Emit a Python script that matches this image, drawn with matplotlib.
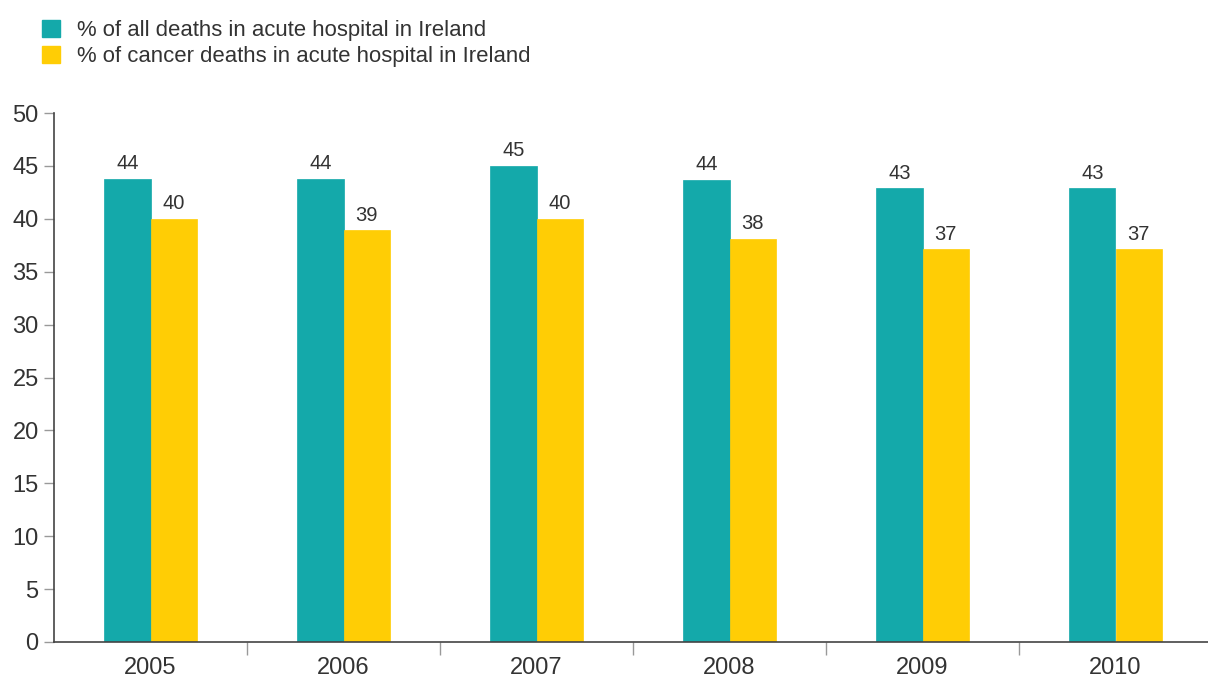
import numpy as np
import matplotlib.pyplot as plt
from matplotlib.patches import Patch

# Данные: доля смертей в больницах Ирландии, %
years = ['2005', '2006', '2007', '2008', '2009', '2010']
all_deaths = [43.8, 43.8, 45.0, 43.7, 42.9, 42.9]
cancer_deaths = [40.0, 38.9, 40.0, 38.1, 37.1, 37.1]
series_names = ['% of all deaths in acute hospital in Ireland',
                '% of cancer deaths in acute hospital in Ireland']

teal = '#14a9aa'
yellow = '#ffcd05'
text_col = '#333333'

plt.rcParams['font.family'] = ['Liberation Sans', 'DejaVu Sans']

fig = plt.figure(figsize=(12.08, 6.77), dpi=100)
ax = fig.add_axes([54 / 1208, 1 - 642 / 677, 1 - 54 / 1208, (642 - 113) / 677])

x = np.arange(len(years))
w = 0.24
b1 = ax.bar(x - w / 2, all_deaths, w, color=teal, edgecolor=teal, linewidth=0.5)
b2 = ax.bar(x + w / 2, cancer_deaths, w, color=yellow, edgecolor=yellow, linewidth=0.5)
for bars in (b1, b2):
    ax.bar_label(bars, fmt='%.0f', padding=4, fontsize=14.5, color=text_col)

ax.set_xlim(-0.5, -0.5 + 1154 / 193)
ax.set_ylim(0, 50)
ax.set_yticks(np.arange(0, 51, 5))
ax.set_xticks(x)
ax.set_xticklabels(years)
ax.set_xticks(x[:-1] + 0.5, minor=True)

ax.tick_params(axis='y', direction='out', length=7, width=1, color='#999999',
               labelsize=17, labelcolor=text_col, pad=4)
ax.tick_params(axis='x', which='major', length=0, labelsize=17,
               labelcolor=text_col, pad=11)
ax.tick_params(axis='x', which='minor', direction='out', length=9, width=1,
               color='#999999')

for side in ('top', 'right'):
    ax.spines[side].set_visible(False)
for side in ('left', 'bottom'):
    ax.spines[side].set_color('#444444')
    ax.spines[side].set_linewidth(1.2)

handles = [Patch(color=teal), Patch(color=yellow)]
fig.legend(handles, series_names, loc='upper left', bbox_to_anchor=(0.018, 1.0),
           frameon=False, fontsize=15.9, handlelength=0.85, handleheight=0.85,
           handletextpad=0.75, labelspacing=0.2, labelcolor=text_col)

fig.savefig('out.png', dpi=100)
